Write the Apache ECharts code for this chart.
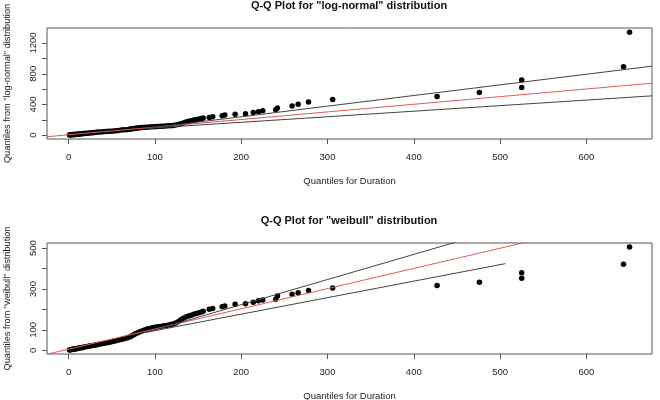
<!DOCTYPE html>
<html>
<head>
<meta charset="utf-8">
<script src="https://cdn.jsdelivr.net/npm/echarts@6/dist/echarts.min.js"></script>
<style>
  html, body { margin: 0; padding: 0; background: #fff; }
  #main { width: 660px; height: 400px; }
</style>
</head>
<body>
<div id="main"></div>
<script>
// sorted durations (x of both panels)
let duration = [1,2,3,4,5,6,7,8,9,10,12,13,15,16,18,20,22,24,26,28,30,32,34,37,40,43,46,49,52,55,
  58,61,64,67,70,72,74,76,78,80,82,85,88,91,94,97,100,103,106,109,112,115,118,121,124,127,130,133,136,139,
  142,145,148,151,154,156,163,167,178,181,193,205,214,220,225,240,242,259,266,278,306,427,476,525,525,643,650];
// theoretical quantiles, log-normal
let lnQuant = [3,4,5,6,7,8,9,10,11,13,15,16,18,19,21,24,26,28,31,33,36,38,40,42,45,47,50,52,55,58,
  62,66,69,72,76,79,82,86,90,93,96,99,102,104,106,108,111,113,115,117,119,121,124,127,132,140,150,160,170,180,
  188,196,204,211,218,222,230,239,254,263,273,279,295,306,317,330,355,380,404,432,466,503,555,620,720,890,1342];
// theoretical quantiles, weibull
let wbQuant = [2,3,4,4,5,6,7,8,8,9,11,12,13,14,16,17,19,21,22,24,25,27,29,31,33,36,38,41,44,47,
  50,53,56,60,64,68,72,77,82,86,90,95,100,104,107,110,113,115,117,119,121,123,126,129,134,140,150,157,163,168,
  172,176,180,184,188,191,201,205,213,217,225,228,235,242,246,250,266,274,282,293,305,317,333,353,380,421,506];

// reference line and envelope (end points)
let lnRefX = [-25, 676], lnRefY = [-20, 677];
let lnUpX = [90, 676], lnUpY = [87, 899];
let lnLowX = [90, 676], lnLowY = [88, 512];
let wbRefX = [-25, 535], wbRefY = [-19, 534];
let wbUpX = [90, 455], wbUpY = [88, 537];
let wbLowX = [90, 506], wbLowY = [88, 424];

let xTicks = [0,100,200,300,400,500,600];
let lnTicks = [0,200,400,600,800,1000,1200];
let lnLabels = [0,400,800,1200];
let wbTicks = [0,100,200,300,400,500];
let wbLabels = [0,100,300,500];

let font = 'Liberation Sans, Arial, Helvetica, sans-serif';

function pairs(xs, ys) {
  return xs.map(function (v, i) { return [v, ys[i]]; });
}

function plain(v) { return String(v); }

function xAx(idx) {
  return {
    type: 'value', gridIndex: idx, min: -25, max: 676,
    name: 'Quantiles for Duration', nameLocation: 'middle', nameGap: 37,
    nameTextStyle: { fontFamily: font, fontSize: 9.5, color: '#222' },
    axisLine: { show: false, onZero: false },
    splitLine: { show: false },
    axisTick: { show: true, length: 5, customValues: xTicks, lineStyle: { color: '#555' } },
    axisLabel: { customValues: xTicks, margin: 13, formatter: plain, fontFamily: font, fontSize: 9.5, color: '#222' }
  };
}

function yAx(idx, name, mn, mx, ticks, labels) {
  return {
    type: 'value', gridIndex: idx, min: mn, max: mx,
    name: name, nameLocation: 'middle', nameRotate: 90, nameGap: 35,
    nameTextStyle: { fontFamily: font, fontSize: 9.2, color: '#222' },
    axisLine: { show: false, onZero: false },
    splitLine: { show: false },
    axisTick: { show: true, length: 5, customValues: ticks, lineStyle: { color: '#555' } },
    axisLabel: { customValues: labels, rotate: 90, margin: 9, formatter: plain, fontFamily: font, fontSize: 9.5, color: '#222' }
  };
}

function lineSer(idx, xs, ys, color) {
  return {
    type: 'line', xAxisIndex: idx, yAxisIndex: idx, data: pairs(xs, ys),
    symbol: 'none', clip: true, z: 5,
    lineStyle: { color: color, width: 1 }
  };
}

let chart = echarts.init(document.getElementById('main'));
chart.setOption({
  animation: false,
  backgroundColor: '#fff',
  title: [
    { text: 'Q-Q Plot for "log-normal" distribution', left: 349, textAlign: 'center', top: 0, padding: 0,
      textStyle: { fontFamily: font, fontSize: 11, fontWeight: 'bold', color: '#111' } },
    { text: 'Q-Q Plot for "weibull" distribution', left: 349, textAlign: 'center', top: 215, padding: 0,
      textStyle: { fontFamily: font, fontSize: 11, fontWeight: 'bold', color: '#111' } }
  ],
  grid: [
    { left: 47, top: 28, width: 605, height: 111, outerBoundsMode: 'none', containLabel: false,
      show: true, borderColor: '#555', borderWidth: 1 },
    { left: 47, top: 243, width: 605, height: 111, outerBoundsMode: 'none', containLabel: false,
      show: true, borderColor: '#555', borderWidth: 1 }
  ],
  xAxis: [xAx(0), xAx(1)],
  yAxis: [
    yAx(0, 'Quantiles from "log-normal" distribution', -50, 1396, lnTicks, lnLabels),
    yAx(1, 'Quantiles from "weibull" distribution', -18, 525, wbTicks, wbLabels)
  ],
  series: [
    { type: 'scatter', xAxisIndex: 0, yAxisIndex: 0, data: pairs(duration, lnQuant),
      symbolSize: 5.5, itemStyle: { color: '#000', opacity: 1 } },
    { type: 'scatter', xAxisIndex: 1, yAxisIndex: 1, data: pairs(duration, wbQuant),
      symbolSize: 5.5, itemStyle: { color: '#000', opacity: 1 } },
    lineSer(0, lnRefX, lnRefY, '#e05a5a'),
    lineSer(0, lnUpX, lnUpY, '#444'),
    lineSer(0, lnLowX, lnLowY, '#444'),
    lineSer(1, wbRefX, wbRefY, '#e05a5a'),
    lineSer(1, wbUpX, wbUpY, '#444'),
    lineSer(1, wbLowX, wbLowY, '#444')
  ]
});
</script>
</body>
</html>
